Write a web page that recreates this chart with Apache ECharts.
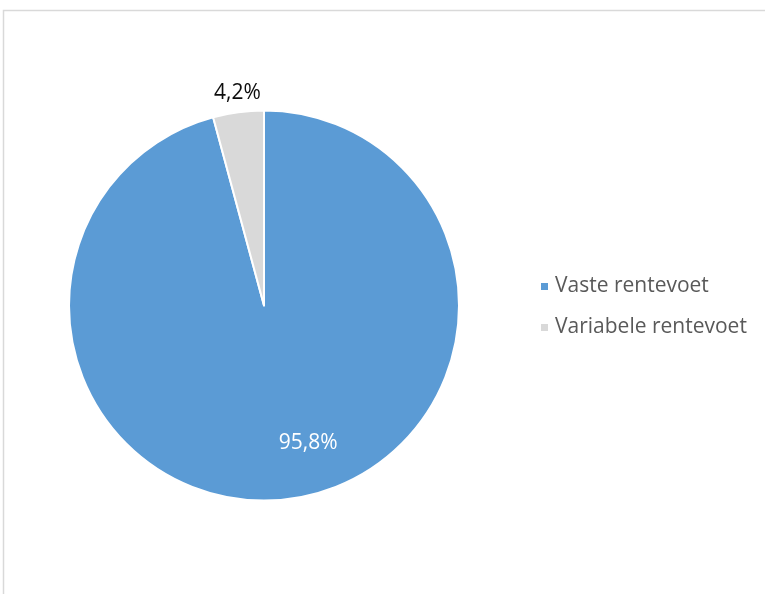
<!DOCTYPE html>
<html><head><meta charset="utf-8">
<script src="https://cdn.jsdelivr.net/npm/echarts@6/dist/echarts.min.js"></script>
<style>html,body{margin:0;padding:0;background:#fff}#c{width:765px;height:594px}</style>
</head><body><div id="c"></div>
<script>
const categories = ['Vaste rentevoet', 'Variabele rentevoet'];
const values = [95.8, 4.2];
const colors = ['#5b9bd5', '#d9d9d9'];

const chart = echarts.init(document.getElementById('c'));
const fmt = p => p.value.toFixed(1).replace('.', ',') + '%';
chart.setOption({
  animation: false,
  graphic: [{
    type: 'rect', silent: true,
    shape: { x: 3.5, y: 10.5, width: 900, height: 800 },
    style: { fill: 'none', stroke: '#d9d9d9', lineWidth: 1.5 }
  }],
  legend: {
    orient: 'vertical', left: 534, top: 271, itemGap: 20,
    itemWidth: 9, itemHeight: 9, icon: 'rect',
    textStyle: { fontFamily: 'Open Sans', fontSize: 21, color: '#595959', padding: [0, 0, 0, 1] },
    data: categories
  },
  series: [{
    type: 'pie', center: [264, 305.5], radius: 195,
    startAngle: 90, clockwise: true,
    itemStyle: { borderColor: '#fff', borderWidth: 2 },
    labelLine: { show: false, length: 12, length2: 0 },
    data: categories.map((c, i) => ({
      name: c, value: values[i], itemStyle: { color: colors[i] },
      label: i === 0
        ? { position: 'inside', color: '#fff', offset: [31, 38] }
        : { position: 'outside', color: '#0d0d0d', alignTo: 'none', offset: [29, -7] }
    })),
    label: { show: true, formatter: fmt, fontFamily: 'Open Sans', fontSize: 21 },
    emphasis: { disabled: true }
  }]
});
</script></body></html>
